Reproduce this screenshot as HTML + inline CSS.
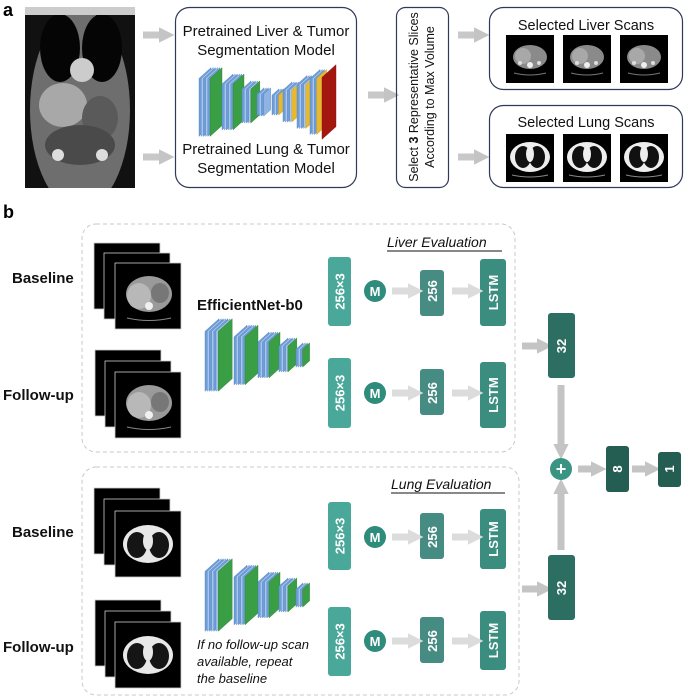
<!DOCTYPE html>
<html><head><meta charset="utf-8"><style>
html,body{margin:0;padding:0;background:#fff;}
svg{display:block;font-family:"Liberation Sans",Calibri,sans-serif;}
.t{font-family:"Liberation Sans",sans-serif;}
</style></head><body>
<svg id="s" width="685" height="698" viewBox="0 0 685 698" xmlns="http://www.w3.org/2000/svg">
<defs>
<clipPath id="cor"><rect x="25" y="7" width="110" height="181"/></clipPath>
<marker id="ah" viewBox="0 0 10 10" refX="0" refY="5" markerWidth="2.2" markerHeight="2.2" orient="auto"><path d="M0,0L10,5L0,10z" fill="#c4c4c4"/></marker>
<g id="liv">
  <rect x="0" y="0" width="48" height="48" fill="#000"/>
  <ellipse cx="24" cy="22" rx="17" ry="12" fill="#8a8a8a"/>
  <ellipse cx="17" cy="21" rx="8" ry="8" fill="#a8a8a8"/>
  <circle cx="24" cy="30" r="3" fill="#eee"/>
  <circle cx="14" cy="28" r="2" fill="#ddd"/><circle cx="33" cy="28" r="2" fill="#ddd"/>
  <path d="M8,38 Q24,42 40,38" stroke="#777" fill="none"/>
</g>
<g id="lung">
  <rect x="0" y="0" width="48" height="48" fill="#000"/>
  <ellipse cx="24" cy="23" rx="20" ry="15" fill="#eee"/>
  <ellipse cx="17" cy="23" rx="8" ry="11" fill="#111"/>
  <ellipse cx="31" cy="23" rx="8" ry="11" fill="#111"/>
  <ellipse cx="24" cy="20" rx="4" ry="8" fill="#eee"/>
  <path d="M6,41 Q24,45 42,41" stroke="#888" fill="none"/>
</g>
<g id="bliv">
  <rect x="0" y="0" width="66" height="66" fill="#000" stroke="#ccc" stroke-width="0.8"/>
  <ellipse cx="34" cy="31" rx="23" ry="18" fill="#9a9a9a"/>
  <ellipse cx="24" cy="33" rx="12" ry="13" fill="#b8b8b8"/>
  <ellipse cx="45" cy="30" rx="9" ry="10" fill="#777"/>
  <circle cx="34" cy="43" r="4" fill="#f0f0f0"/>
  <path d="M12,55 Q34,60 56,55" stroke="#888" fill="none"/>
</g>
<g id="blung">
  <rect x="0" y="0" width="66" height="66" fill="#000" stroke="#ccc" stroke-width="0.8"/>
  <ellipse cx="33" cy="33" rx="25" ry="19" fill="#e8e8e8"/>
  <ellipse cx="22" cy="34" rx="10" ry="13" fill="#151515"/>
  <ellipse cx="44" cy="34" rx="10" ry="13" fill="#151515"/>
  <ellipse cx="33" cy="30" rx="5" ry="9" fill="#e8e8e8"/>
</g>
<g id="stackBack">
  <rect x="0" y="0" width="66" height="66" fill="#000" stroke="#ccc" stroke-width="0.8"/>
</g>
</defs>

<!-- ===== Part a ===== -->
<text x="3" y="16" font-size="18" font-weight="bold" class="t">a</text>
<g clip-path="url(#cor)">
<rect x="25" y="7" width="110" height="181" fill="#111"/>
<ellipse cx="80" cy="110" rx="50" ry="100" fill="#6e6e6e"/>
<ellipse cx="60" cy="48" rx="20" ry="34" fill="#050505"/>
<ellipse cx="102" cy="48" rx="20" ry="34" fill="#050505"/>
<ellipse cx="82" cy="70" rx="12" ry="12" fill="#ccc"/>
<ellipse cx="63" cy="105" rx="24" ry="22" fill="#a8a8a8"/>
<ellipse cx="100" cy="118" rx="18" ry="22" fill="#5a5a5a"/>
<ellipse cx="80" cy="145" rx="35" ry="20" fill="#4a4a4a"/>
<circle cx="58" cy="155" r="6" fill="#ddd"/><circle cx="102" cy="155" r="6" fill="#ddd"/>
<rect x="25" y="7" width="110" height="8" fill="#ccc"/>
</g>
<g stroke="#c8c8c8" stroke-width="7" fill="none">
<line x1="143" y1="35" x2="159" y2="35" marker-end="url(#ah)"/>
<line x1="143" y1="157" x2="159" y2="157" marker-end="url(#ah)"/>
<line x1="368" y1="95" x2="384" y2="95" marker-end="url(#ah)"/>
<line x1="458" y1="35" x2="474" y2="35" marker-end="url(#ah)"/>
<line x1="458" y1="157" x2="474" y2="157" marker-end="url(#ah)"/>
</g>
<rect x="175.5" y="7.5" width="181" height="180" rx="14" fill="none" stroke="#2f3a5a" stroke-width="1.2"/>
<g font-size="15" text-anchor="middle" fill="#111">
<text x="266" y="36">Pretrained Liver &amp; Tumor</text>
<text x="266" y="55">Segmentation Model</text>
<text x="266" y="154">Pretrained Lung &amp; Tumor</text>
<text x="266" y="173">Segmentation Model</text>
</g>
<g id="netA"></g>
<rect x="396.5" y="7.5" width="52" height="180" rx="9" fill="none" stroke="#2f3a5a" stroke-width="1.2"/>
<g transform="translate(422,97) rotate(-90)" font-size="12.5" text-anchor="middle" fill="#111">
<text x="0" y="-4">Select <tspan font-weight="bold">3</tspan> Representative Slices</text>
<text x="0" y="12">According to Max Volume</text>
</g>
<rect x="489.5" y="7.5" width="193" height="82" rx="14" fill="none" stroke="#2f3a5a" stroke-width="1.2"/>
<rect x="489.5" y="105.5" width="193" height="82" rx="14" fill="none" stroke="#2f3a5a" stroke-width="1.2"/>
<g font-size="14.5" text-anchor="middle" fill="#111">
<text x="586" y="30">Selected Liver Scans</text>
<text x="586" y="127">Selected Lung Scans</text>
</g>
<use href="#liv" x="506" y="35"/><use href="#liv" x="563" y="35"/><use href="#liv" x="620" y="35"/>
<use href="#lung" x="506" y="134"/><use href="#lung" x="563" y="134"/><use href="#lung" x="620" y="134"/>

<!-- ===== Part b ===== -->
<text x="3" y="218" font-size="18" font-weight="bold" class="t">b</text>
<rect x="82" y="224" width="433" height="228" rx="14" fill="none" stroke="#c8c8c8" stroke-width="1" stroke-dasharray="4,3"/>
<rect x="82" y="467" width="437" height="228" rx="14" fill="none" stroke="#c8c8c8" stroke-width="1" stroke-dasharray="4,3"/>
<g font-size="15" font-weight="bold" fill="#111">
<text x="12" y="283">Baseline</text>
<text x="3" y="400">Follow-up</text>
<text x="12" y="537">Baseline</text>
<text x="3" y="652">Follow-up</text>
<text x="197" y="310">EfficientNet-b0</text>
</g>
<g font-size="14" font-style="italic" fill="#111">
<text x="387" y="247">Liver Evaluation</text>
<text x="391" y="489">Lung Evaluation</text>
<text x="197" y="649" font-size="13">If no follow-up scan</text>
<text x="197" y="666" font-size="13">available, repeat</text>
<text x="197" y="683" font-size="13">the baseline</text>
</g>
<line x1="387" y1="251" x2="502" y2="251" stroke="#111"/>
<line x1="391" y1="493" x2="505" y2="493" stroke="#111"/>
<use href="#stackBack" x="94" y="243"/><use href="#stackBack" x="104" y="253"/><use href="#bliv" x="115" y="263"/>
<use href="#stackBack" x="95" y="350"/><use href="#stackBack" x="105" y="361"/><use href="#bliv" x="115" y="372"/>
<use href="#stackBack" x="94" y="488"/><use href="#stackBack" x="104" y="499"/><use href="#blung" x="115" y="511"/>
<use href="#stackBack" x="95" y="600"/><use href="#stackBack" x="105" y="611"/><use href="#blung" x="115" y="622"/>
<g id="netB1"></g><g id="netB2"></g>

<g id="rows"></g>
<g stroke="#c4c4c4" stroke-width="7" fill="none">
<line x1="522" y1="346" x2="537" y2="346" marker-end="url(#ah)"/>
<line x1="522" y1="589" x2="537" y2="589" marker-end="url(#ah)"/>
<line x1="561" y1="385" x2="561" y2="444" marker-end="url(#ah)"/>
<line x1="561" y1="550" x2="561" y2="494" marker-end="url(#ah)"/>
<line x1="578" y1="469" x2="591" y2="469" marker-end="url(#ah)"/>
<line x1="632" y1="469" x2="645" y2="469" marker-end="url(#ah)"/>
</g>
<rect x="548" y="313" width="27" height="65" rx="3" fill="#2d6e62"/>
<rect x="548" y="555" width="27" height="65" rx="3" fill="#2d6e62"/>
<rect x="606" y="446" width="23" height="46" rx="3" fill="#245d52"/>
<rect x="658" y="452" width="23" height="35" rx="3" fill="#245d52"/>
<circle cx="561" cy="469" r="11" fill="#3a9484"/>
<text x="561" y="475" font-size="18" font-weight="bold" fill="#fff" text-anchor="middle">+</text>
<g fill="#fff" font-weight="bold" font-size="13" text-anchor="middle">
<text transform="translate(566,346) rotate(-90)">32</text>
<text transform="translate(566,588) rotate(-90)">32</text>
<text transform="translate(622,469) rotate(-90)">8</text>
<text transform="translate(674,469) rotate(-90)">1</text>
</g>
</svg>
<script>
var NS="http://www.w3.org/2000/svg";
function el(p,t,a){var e=document.createElementNS(NS,t);for(var k in a)e.setAttribute(k,a[k]);p.appendChild(e);return e;}
function slab(g,x,cy,H,w,fill,stroke){var s=w*0.9;
 el(g,"polygon",{points:[x,cy-H/2+s/2, x+w,cy-H/2-s/2, x+w,cy+H/2-s/2, x,cy+H/2+s/2].join(" "),fill:fill,stroke:stroke||"#4f7fbf","stroke-width":0.4});}
function grp(g,x0,cy,n,H,w,last,lastStroke){var x=x0;
 for(var i=0;i<n;i++){slab(g,x,cy,H,w,i%2?"#a9c6ec":"#6f9fd8");x+=2.2;}
 slab(g,x,cy,H,w,last,lastStroke);}
var G="#3a9e45",GS="#2d7d36";
function encB(g,cy){
 grp(g,205,cy,6,60,14,G,GS);
 grp(g,234,cy,5,48,13,G,GS);
 grp(g,258,cy,5,36,11,G,GS);
 grp(g,279,cy,4,26,9,G,GS);
 grp(g,296,cy,3,18,7,G,GS);}
encB(document.getElementById("netB1"),355);
encB(document.getElementById("netB2"),595);
var a=document.getElementById("netA"),cy=102;
grp(a,199,cy,5,58,12,G,GS);
grp(a,222,cy,5,46,11,G,GS);
grp(a,242,cy,4,34,9,G,GS);
grp(a,257,cy,3,22,7,"#8db4e2");
grp(a,272,cy,3,20,7,"#e8b830","#c99a20");
grp(a,283,cy,4,32,9,"#e8b830","#c99a20");
grp(a,297,cy,4,44,10,"#e8b830","#c99a20");
grp(a,310,cy,3,56,10,"#e8b830","#c99a20");
slab(a,322,cy,62,14,"#a3170f","#7d100a");
var d=document.querySelector("defs");
var m=el(d,"marker",{id:"ah2",viewBox:"0 0 10 10",refX:0,refY:5,markerWidth:2.2,markerHeight:2.2,orient:"auto"});
el(m,"path",{d:"M0,0L10,5L0,10z",fill:"#dcdcdc"});
var R=document.getElementById("rows");
var rows=[[291,257,69,270,46,259,67],[393,358,70,369,46,362,66],[537,502,68,513,46,509,60],[641,607,69,617,46,611,59]];
rows.forEach(function(r){var cy=r[0];
 el(R,"rect",{x:328,y:r[1],width:23,height:r[2],rx:3,fill:"#4aa89a"});
 el(R,"circle",{cx:375,cy:cy,r:11,fill:"#2f8b7b"});
 el(R,"rect",{x:420,y:r[3],width:24,height:r[4],rx:3,fill:"#468c82"});
 el(R,"rect",{x:480,y:r[5],width:26,height:r[6],rx:3,fill:"#3a8d7f"});
 [[392,408],[452,468]].forEach(function(p){el(R,"line",{x1:p[0],y1:cy,x2:p[1],y2:cy,stroke:"#dcdcdc","stroke-width":7,"marker-end":"url(#ah2)"});});
 var t=el(R,"text",{x:375,y:cy+5,"font-size":13,"font-weight":"bold",fill:"#fff","text-anchor":"middle"});t.textContent="M";
 var t1=el(R,"text",{transform:"translate(344.5,"+(r[1]+r[2]/2)+") rotate(-90)","font-size":13,"font-weight":"bold",fill:"#fff","text-anchor":"middle"});t1.textContent="256×3";
 var t2=el(R,"text",{transform:"translate(437,"+cy+") rotate(-90)","font-size":13,"font-weight":"bold",fill:"#fff","text-anchor":"middle"});t2.textContent="256";
 var t3=el(R,"text",{transform:"translate(498,"+(r[5]+r[6]/2)+") rotate(-90)","font-size":13,"font-weight":"bold",fill:"#fff","text-anchor":"middle"});t3.textContent="LSTM";
});
</script>
</body></html>
